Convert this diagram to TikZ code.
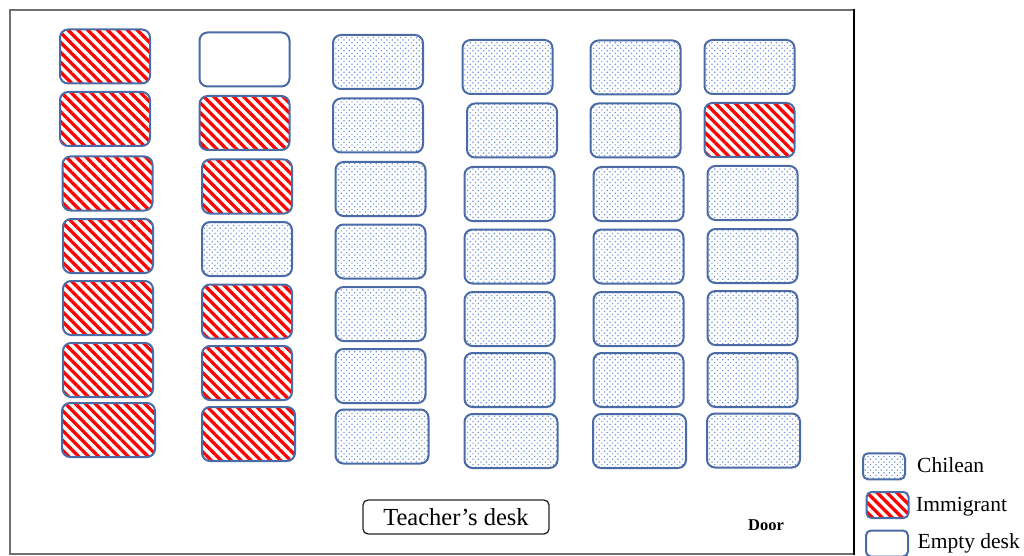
\documentclass[tikz,border=0pt]{standalone}
\usepackage{fontspec}
\setmainfont{Liberation Serif}
\usetikzlibrary{patterns.meta}
\definecolor{deskline}{HTML}{4A6BA6}
\definecolor{dotblue}{HTML}{6A90D8}
\definecolor{roomgray}{HTML}{707070}
\begin{document}
\begin{tikzpicture}[x=1pt,y=-1pt,
  desk/.style={draw=deskline, line width=2pt, rounded corners=8pt,
    minimum width=90pt, minimum height=54pt, inner sep=0pt},
  wide/.style={minimum width=93pt},
  chilean/.style={desk, pattern={Dots[distance=3.8pt, radius=0.85pt, angle=45]}, pattern color=dotblue},
  immig/.style={desk, pattern={Lines[angle=-45, distance=7pt, line width=3.3pt]}, pattern color=red},
  vacant/.style={desk, fill=white},
  legbox/.style={minimum width=42pt, minimum height=26pt, rounded corners=5pt},
  lbl/.style={font=\fontsize{21.5}{24}\selectfont, anchor=base west, inner sep=0pt}]
\useasboundingbox (0,0) rectangle (1024,556);
% room
\draw[roomgray, line width=1.8pt] (10,10) rectangle (854,554);
\draw[black, line width=1.5pt] (854,9) -- (854,555);
% column 1
\node[immig] (d11) at (105,56.5) {};
\node[immig] (d12) at (105,119) {};
\node[immig] (d13) at (107.5,183.5) {};
\node[immig] (d14) at (108,246) {};
\node[immig] (d15) at (108,308) {};
\node[immig] (d16) at (108,370) {};
\node[immig,wide] (d17) at (108.5,430) {};
% column 2
\node[vacant] (d21) at (244.5,59.5) {};
\node[immig] (d22) at (244.5,123) {};
\node[immig] (d23) at (247,186.5) {};
\node[chilean] (d24) at (247,249) {};
\node[immig] (d25) at (247,311.5) {};
\node[immig] (d26) at (247,373) {};
\node[immig,wide] (d27) at (248.5,434) {};
% column 3
\node[chilean] (d31) at (378,62) {};
\node[chilean] (d32) at (378,125.5) {};
\node[chilean] (d33) at (380.5,189) {};
\node[chilean] (d34) at (380.5,251.5) {};
\node[chilean] (d35) at (380.5,314) {};
\node[chilean] (d36) at (380.5,376) {};
\node[chilean,wide] (d37) at (382,436.5) {};
% column 4
\node[chilean] (d41) at (507.5,67) {};
\node[chilean] (d42) at (512,130.5) {};
\node[chilean] (d43) at (509.5,194) {};
\node[chilean] (d44) at (509.5,256.5) {};
\node[chilean] (d45) at (509.5,319) {};
\node[chilean] (d46) at (509.5,380) {};
\node[chilean,wide] (d47) at (511,441) {};
% column 5
\node[chilean] (d51) at (635.5,67.5) {};
\node[chilean] (d52) at (635.5,130.5) {};
\node[chilean] (d53) at (638.5,194) {};
\node[chilean] (d54) at (638.5,256.5) {};
\node[chilean] (d55) at (638.5,319) {};
\node[chilean] (d56) at (638.5,380) {};
\node[chilean,wide] (d57) at (639.5,441) {};
% column 6
\node[chilean] (d61) at (749.5,67) {};
\node[immig] (d62) at (749.5,130) {};
\node[chilean] (d63) at (752.5,193) {};
\node[chilean] (d64) at (752.5,256) {};
\node[chilean] (d65) at (752.5,318) {};
\node[chilean] (d66) at (752.5,380) {};
\node[chilean,wide] (d67) at (753.5,440.5) {};
% teacher's desk and door
\node[draw=black!85, line width=1.3pt, rounded corners=5pt, minimum width=186pt,
  minimum height=34pt, inner sep=0pt, font=\fontsize{24.5}{28}\selectfont] (tdesk) at (456,517) {Teacher’s desk};
\node[font=\bfseries\fontsize{16.5}{18}\selectfont, inner sep=0pt] (door) at (766,525) {Door};
% legend
\node[chilean,legbox] (lc) at (884,466.3) {};
\node[immig,legbox] (li) at (887.5,505) {};
\node[vacant,legbox] (le) at (887,543.5) {};
\node[lbl] (tc) at (917,472.8) {Chilean};
\node[lbl] (ti) at (916,511) {Immigrant};
\node[lbl] (te) at (917.5,548.5) {Empty desk};
\end{tikzpicture}
\end{document}
